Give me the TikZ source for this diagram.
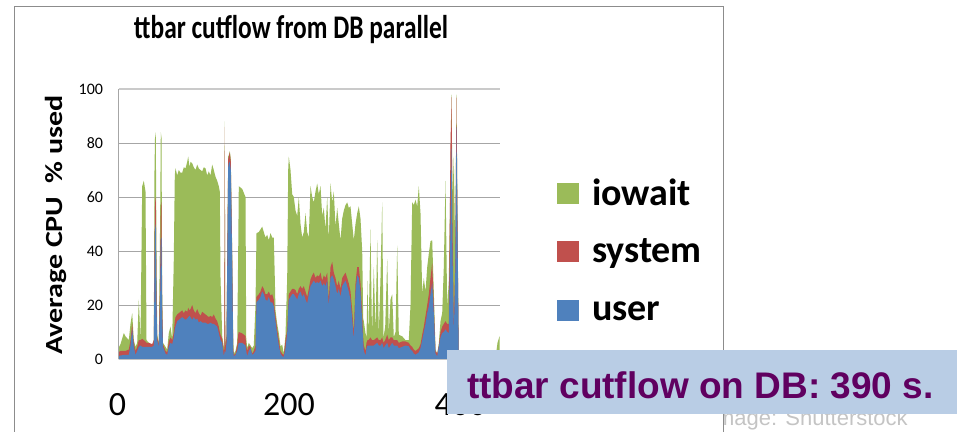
\documentclass[tikz,border=0pt]{standalone}
\usepackage{graphicx}
\usepackage{fontspec}
\setmainfont{Carlito}
\newfontfamily\arialfont{Liberation Sans}
\definecolor{iowc}{HTML}{9BBB59}
\definecolor{sysc}{HTML}{C0504D}
\definecolor{usrc}{HTML}{4F81BD}
\definecolor{boxc}{HTML}{B9CDE5}
\definecolor{purp}{HTML}{600060}
\definecolor{framec}{HTML}{8C8C8C}
\definecolor{gridc}{HTML}{A6A6A6}
\definecolor{creditc}{HTML}{C4C4C4}
\def\cpudata{0/1/2.5/4, 2/1.3/3/5.5, 5.3/1.5/3/9.6, 7/1.5/3/8.4, 10.3/1.5/3.5/7, 12/5/7/13, 13.7/11/13/17, 15.3/4.5/6/7, 17/1.5/3/4.5, 18.7/3/4.5/6, 20.3/4.5/7/22, 22/5/7/7, 23.7/4.5/7.5/64, 25.3/4.5/7/66, 27/4.5/6.5/62, 28/4.5/6/7, 30.3/4.5/6/6, 33.7/4.5/5.5/5, 35.3/5/7/7, 36/30/40/70, 36.6/50/60/84, 37.3/48/58/82, 38/20/25/40, 38.7/7/8/9, 40.3/4.5/5.5/6, 41.6/20/30/50, 42.3/44/55/84, 43/45/58/82, 43.7/15/20/25, 44.5/4.5/5.5/6, 47/2/3/4.5, 48.7/1.5/2.5/3.5, 50.3/4.5/6.5/9.6, 52/6/8/12, 53.7/5.5/7/7.5, 55.3/8/10/37, 56.3/11/14/68, 57/12/15.5/70.6, 58.7/14/16.5/68, 60.3/14.5/17/70, 62/15/17.5/69, 63.7/15.5/18/69, 65.3/15/17/71, 67/14.5/18/70.6, 68.7/15/17.5/73, 69.7/15.5/19/75, 71/16/18/71, 72/15.5/18.5/73, 73.7/14.5/20/72.5, 75.3/15.5/18/71, 77/14.5/17/70, 78.7/15/18.5/72, 80.3/13.5/17/70.6, 82/14/16/70, 83.7/13.5/17.5/69.5, 85.3/13.5/17/71, 87/13.5/16.5/70.6, 88.7/13/16/68, 90.3/13/15.5/69.5, 92/13.5/16/68, 93.7/13/15.5/72, 95.3/13/16.5/70, 97/12.5/15/67.5, 98.7/12/14/66, 100.3/9.6/12/64, 101.3/8/10/62, 102/7/9/30, 103.7/6/7.5/8.5, 105.3/1/3/4.5, 105.8/2/3.5/4.5, 106.3/3/86/88, 106.8/2/3.5/5, 108/6/8/9, 109.7/71/74/75, 110.3/72.5/75/75.5, 111.3/73/76.5/77, 112.3/70/73/74, 113.7/35/38/40, 114.7/3/4/8, 115.3/1/1.5/2, 117/1.5/2/3, 118.7/3/5/6, 119.7/5/9/40, 120.3/6/10/64, 123.7/6/9.5/63, 127/5/8.5/60, 127.7/3/5/8, 128.7/1/3/4, 130.3/3/5/6, 132/4/4.5/5, 133.7/1.5/2/4, 135.3/2/3/5, 137/3/5/20, 138/21/23/46.6, 140.3/22/24/47, 142/23/25/48, 143.7/25/27/49, 145.3/24/26/47, 147/22/24/45, 148.7/21.5/24/46, 150.3/23/25/44, 152/21/23.5/46.6, 153.7/21/24/45, 155.3/19.5/22/45, 156.3/16/18/30, 157/14/16/18, 158.7/9/11/13, 160.3/5/7/9.6, 162/2/3/4.7, 163.7/1/2/5.3, 165.3/0.8/1.5/2, 167/4/7/9, 168.7/9.6/11/30, 169.7/18/20/70, 170.3/22/24/75, 172/23/25/70, 173.7/24/26/61, 175.3/24/26/60, 177/23/25.5/55, 178.7/22/24/53, 180.3/24/26/60, 182/25/27/50, 183.7/23/26/45, 185.3/24/27/47, 187/22/25/54, 188.7/20.6/23/47, 190.3/24/26/45, 192/27/29.5/64, 193.7/28/31/60, 195.3/29/32/58, 197/28/30/62, 198.7/28.5/31/65, 200.3/28/30.5/61, 202/29/32/64, 203.7/27/29/53, 205.3/28/31/56, 207/27/30/48, 208.7/29/32/60, 210.3/19.5/22/44, 212/30/34/65, 213.7/31/36/58, 215.3/29.5/32/62, 217/27/30/49, 218.7/24/27/56, 220.3/26/29/50, 222/23/26/44, 223.7/27/30/52, 225.3/28/31/55, 227/29/32/57, 228.7/27/30/58, 230.3/25/28/56, 232/22/25/56.5, 233.7/15/18/50, 235.3/7/10/44, 237/25/28/50, 238.7/31/34/54, 240.3/30/34/56.5, 242/25/28/52, 243.7/14/17/40, 244.7/6/8/15, 245.3/3/5/14, 247/1.3/3/9.6, 248/4/6/8, 249/5/7/29, 250/5/7/8, 252/5/8/48, 253.5/5/7/9, 255.3/5/7/34, 257/5.5/7.5/10, 258.7/6/8/44, 260.3/5/7/9, 262/5/7/30, 263.7/6/8/58, 265/4/6/8, 266.7/5/7/12, 268.7/6/9/37, 270.3/4/7/10, 272/5/8/22, 273.7/6/8/24, 275.3/5/7/8, 277/5/7/10, 278.7/5/7/42, 280.3/4/6/9, 283.7/4.5/6.5/8.4, 287/5/6.5/7, 290.3/4.7/6/7, 292/3.5/5/20, 293.7/3/4.5/58, 295.3/2/3.5/57, 297/1.6/3/59, 298.7/2/3.5/56.5, 300.3/2.5/4/64, 302/4/5.5/54, 303.7/7/9/24, 305.3/10/12/30, 307/13/16/25, 308.7/17/20/34, 310.3/19.5/24/39, 312/24/30/43.6, 313.7/28/35.5/44, 315.3/17/20/25, 317/2/3/3.5, 318.7/1/2/2, 320.3/4.5/5/5.6, 322/8/10/14, 323.7/9.6/12/17, 325.3/10/13/34, 327/11/14/66, 328.7/10/13/19, 330.3/9.6/13/29, 332/50/80/70, 333/78/97/98, 334/40/50/60, 335.3/10/12/75, 336.7/30/35/40, 338/86/97/98, 339.3/35/37/40, 340.3/0/0.3/0.5, 377/0/0/0.3, 379/0/0/6, 381/0/0/8.4}
\begin{document}
\begin{tikzpicture}[x=1pt,y=-1pt,
  every node/.style={inner sep=0pt, outer sep=0pt},
  titletxt/.style={font=\bfseries\fontsize{33}{37}\selectfont, anchor=base},
  ylabtxt/.style={font=\bfseries\fontsize{30}{34}\selectfont, rotate=90},
  ytick/.style={font=\fontsize{16}{18}\selectfont, anchor=east},
  xtick/.style={font=\fontsize{34}{38}\selectfont, anchor=base},
  legtxt/.style={font=\bfseries\fontsize{38}{42}\selectfont, anchor=base west},
  legsq/.style={minimum width=22pt, minimum height=21pt},
  gridline/.style={draw=gridc, line width=1pt},
  credit/.style={font=\arialfont\fontsize{22}{26}\selectfont, text=creditc, anchor=base west},
  boxtxt/.style={font=\arialfont\bfseries\fontsize{37}{42}\selectfont, text=purp, anchor=base west}]
\useasboundingbox (0,0) rectangle (957,431);
\clip (0,0) rectangle (957,431);
% credit text (partly hidden behind the chart frame)
\node[credit] (credit) at (710,425) {Image: Shutterstock};
% chart frame
\path[draw=framec, line width=1.5pt, fill=white] (14.5,445) -- (14.5,6.5) -- (723.3,6.5) -- (723.3,445);
% title
\node[titletxt] (title) at (291,38) {\scalebox{0.77}[1]{ttbar cutflow from DB parallel}};
% y label
\node[ylabtxt] (ylab) at (56,225) {\scalebox{1}[0.82]{Average CPU\ \ \% used}};
% plot
\begin{scope}[shift={(118.5,359)}, x=1pt, y={(0pt,2.7pt)}]
  \foreach \g in {20,40,60,80} {\draw[gridline] (0,\g) -- (381,\g);}
  \fill[iowc] (0,0) foreach \x/\u/\s/\t in \cpudata {-- (\x,\t)} -- (381,0) -- cycle;
  \fill[sysc] (0,0) foreach \x/\u/\s/\t in \cpudata {-- (\x,\s)} -- (381,0) -- cycle;
  \fill[usrc] (0,0) foreach \x/\u/\s/\t in \cpudata {-- (\x,\u)} -- (381,0) -- cycle;
  \draw[draw=gridc!60, line width=1.5pt] (0,100) -- (381,100);
  \draw[draw=gridc!70, line width=1pt] (0,0) -- (381,0);
  \draw[draw=gridc, line width=1pt] (0,0) -- (0,100);
  \foreach \v in {0,20,40,60,80,100} {\node[ytick] (yt\v) at (-15.5,\v) {\v};}
\end{scope}
% x ticks
\node[xtick] (xt0) at (117.5,415) {0};
\node[xtick] (xt200) at (289,415) {200};
\node[xtick] (xt400) at (460.5,415) {400};
% legend
\node[legsq, fill=iowc] (sqi) at (568,193) {};
\node[legsq, fill=sysc] (sqs) at (568,251.5) {};
\node[legsq, fill=usrc] (squ) at (568,310) {};
\node[legtxt] (li) at (592,205) {iowait};
\node[legtxt] (ls) at (592,262) {system};
\node[legtxt] (lu) at (592,320) {user};
% overlay box
\node[fill=boxc, minimum width=510pt, minimum height=64pt, anchor=north west] (box) at (447,350) {};
\node[boxtxt] (boxlabel) at (467,398) {ttbar cutflow on DB: 390 s.};
\end{tikzpicture}
\end{document}
